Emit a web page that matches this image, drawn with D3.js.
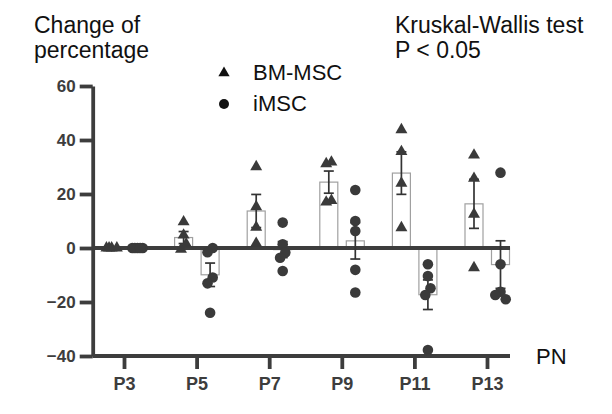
<!DOCTYPE html>
<html>
<head>
<meta charset="utf-8">
<script src="https://cdn.jsdelivr.net/npm/d3@7"></script>
<style>
  body { margin: 0; background: #fff; }
  svg { display: block; font-family: "Liberation Sans", Arial, sans-serif; }
</style>
</head>
<body>
<div id="chart"></div>
<script>
// Data -------------------------------------------------
var categories = ['P3', 'P5', 'P7', 'P9', 'P11', 'P13'];
var seriesNames = ['BM-MSC', 'iMSC'];
var yTicks = [-40, -20, 0, 20, 40, 60];

// one list of replicate values per passage
var bmMsc = [
  [0, 0, 0, 0],
  [9.7, 4.8, 1.5, -0.5],
  [30.1, 15.3, 7.7, 1.7],
  [31.8, 31.2, 17.6, 17.0],
  [43.8, 35.7, 24.0, 7.5],
  [34.4, 25.8, 12.5, -7.3]
];
var iMsc = [
  [0, 0, 0, 0, 0],
  [0, -1.6, -10.9, -13.1, -24.0],
  [9.4, 1.4, -1.7, -3.6, -8.5],
  [21.5, 10.0, 6.3, -8.1, -16.5],
  [-6.0, -10.4, -14.9, -17.4, -37.8],
  [27.9, -6.0, -16.2, -17.4, -19.0]
];
// END data ---------------------------------------------

var W = 612, H = 414;
var axisX = 92.7, axisY = 356, plotRight = 510;
var ink = '#3d3d3d';
var barW = 18, capW = 10;

var svg = d3.select('#chart').append('svg')
    .attr('width', W).attr('height', H);

var y = d3.scaleLinear().domain([-40, 60]).range([axisY, 86]);
var x = d3.scalePoint().domain(categories).range([124, 487]);
var sub = d3.scalePoint().domain(seriesNames).range([-13, 13.5]);

// build group records
var groups = [];
categories.forEach(function(c, i) {
  [bmMsc[i], iMsc[i]].forEach(function(vals, k) {
    var n = vals.length;
    var sd = d3.deviation(vals) || 0;
    groups.push({cat: c, series: seriesNames[k], vals: vals,
                 mean: d3.mean(vals), sem: sd / Math.sqrt(n)});
  });
});

// simple beeswarm so overlapping points spread sideways
function swarm(g) {
  var step = 2.6, minD = 8;
  var pts = g.vals.map(function(v) { return {v: v, py: y(v)}; })
      .sort(function(a, b) { return a.py - b.py; });
  var placed = [];
  pts.forEach(function(p) {
    var best = 0, bestD = -1;
    var cand = [0, -step, step, -2 * step, 2 * step];
    for (var j = 0; j < cand.length; j++) {
      var o = cand[j];
      var d = placed.length ? d3.min(placed, function(q) { return Math.hypot(q.dx - o, q.py - p.py); }) : Infinity;
      if (d >= minD) { best = o; break; }
      if (d > bestD) { bestD = d; best = o; }
    }
    p.dx = best;
    placed.push(p);
  });
  // recentre each cluster of touching points
  var clusters = [], cur = [];
  pts.forEach(function(p, i) {
    if (i > 0 && p.py - pts[i - 1].py >= minD) { clusters.push(cur); cur = []; }
    cur.push(p);
  });
  clusters.push(cur);
  clusters.forEach(function(cl) {
    var m = d3.mean(cl, function(p) { return p.dx; });
    cl.forEach(function(p) { p.dx -= m; });
  });
  return pts;
}

var gx = function(g) { return x(g.cat) + sub(g.series); };

// bars (outline only)
svg.append('g').selectAll('rect')
  .data(groups).enter().append('rect')
  .attr('x', function(d) { return gx(d) - barW / 2; })
  .attr('y', function(d) { return Math.min(y(d.mean), y(0)); })
  .attr('width', barW)
  .attr('height', function(d) { return Math.abs(y(d.mean) - y(0)); })
  .attr('fill', 'none')
  .attr('stroke', '#a0a0a0')
  .attr('stroke-width', 1.2);

// y axis
var yAxis = d3.axisLeft(y).tickValues(yTicks).tickSize(13).tickSizeOuter(0).tickPadding(4);
var yG = svg.append('g').attr('transform', 'translate(' + axisX + ',0)').call(yAxis);
yG.select('.domain').attr('stroke', ink).attr('stroke-width', 3.8);
yG.selectAll('.tick line').attr('stroke', ink).attr('stroke-width', 3.8);
yG.selectAll('.tick text').attr('fill', ink)
  .style('font-size', '17px').style('font-weight', 'bold')
  .style('font-family', '"Liberation Sans", Arial, sans-serif');

// x axis
var xAxis = d3.axisBottom(x).tickSize(13).tickSizeOuter(0).tickPadding(8);
var xG = svg.append('g').attr('transform', 'translate(0,' + axisY + ')').call(xAxis);
xG.select('.domain').remove();
xG.append('line').attr('x1', axisX).attr('x2', plotRight)
  .attr('stroke', ink).attr('stroke-width', 3.8);
xG.selectAll('.tick line').attr('stroke', ink).attr('stroke-width', 3.8);
xG.selectAll('.tick text').attr('fill', ink)
  .style('font-size', '18px').style('font-weight', 'bold')
  .style('font-family', '"Liberation Sans", Arial, sans-serif');

// zero line
svg.append('line')
  .attr('x1', axisX).attr('x2', plotRight)
  .attr('y1', y(0)).attr('y2', y(0))
  .attr('stroke', ink).attr('stroke-width', 4);

// error bars (mean +/- SEM)
var eb = svg.append('g').selectAll('g')
  .data(groups.filter(function(d) { return d.sem > 0; }))
  .enter().append('g')
  .attr('stroke', '#333').attr('stroke-width', 1.7);
eb.append('line')
  .attr('x1', gx).attr('x2', gx)
  .attr('y1', function(d) { return y(d.mean + d.sem); })
  .attr('y2', function(d) { return y(d.mean - d.sem); });
[1, -1].forEach(function(s) {
  eb.append('line')
    .attr('x1', function(d) { return gx(d) - capW / 2; })
    .attr('x2', function(d) { return gx(d) + capW / 2; })
    .attr('y1', function(d) { return y(d.mean + s * d.sem); })
    .attr('y2', function(d) { return y(d.mean + s * d.sem); });
});

// points
var tri = d3.symbol().type(d3.symbolTriangle).size(62);
var markFill = '#3a3a3a';
groups.forEach(function(g) {
  var pts = swarm(g);
  var cx = gx(g);
  pts.forEach(function(p) {
    if (g.series === 'BM-MSC') {
      svg.append('path').attr('d', tri)
        .attr('transform', 'translate(' + (cx + p.dx) + ',' + p.py + ')')
        .attr('fill', markFill);
    } else {
      svg.append('circle').attr('cx', cx + p.dx).attr('cy', p.py)
        .attr('r', 5.3).attr('fill', markFill);
    }
  });
});

// texts
var txt = function(t, px, py, size) {
  return svg.append('text').attr('x', px).attr('y', py)
    .style('font-size', size + 'px').attr('fill', '#111').text(t);
};
txt('Change of', 34, 33, 23);
txt('percentage', 34, 58, 23);
txt('Kruskal-Wallis test', 395, 33, 23);
txt('P < 0.05', 395, 58, 23);
txt('PN', 536, 364, 22);

// legend
var leg = svg.append('g');
leg.append('path').attr('d', d3.symbol().type(d3.symbolTriangle).size(55))
  .attr('transform', 'translate(224,73)').attr('fill', '#111');
txt('BM-MSC', 253, 80, 22);
leg.append('circle').attr('cx', 224).attr('cy', 104).attr('r', 5).attr('fill', '#111');
txt('iMSC', 253, 111, 22);
</script>
</body>
</html>
